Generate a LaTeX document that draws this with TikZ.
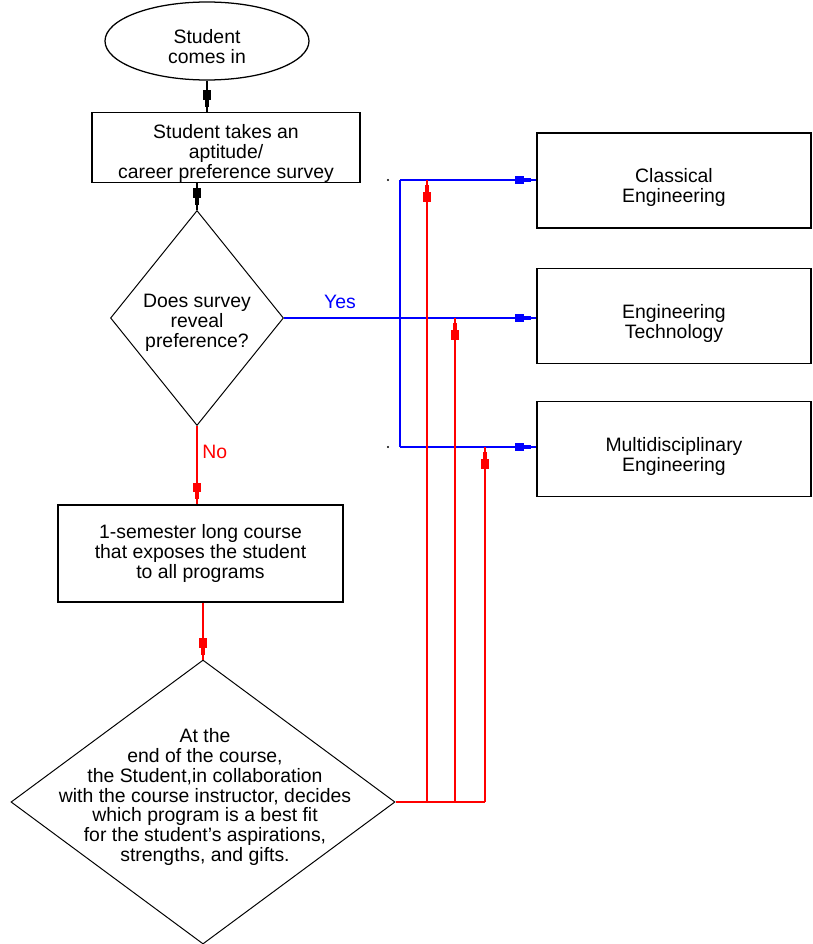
\documentclass[tikz,border=0pt]{standalone}
\usepackage{fontspec}
\setmainfont{Liberation Sans}
\usetikzlibrary{shapes.geometric,arrows.meta,decorations.markings}
\newcommand{\tdrop}[1]{\rule{0pt}{#1}}

\begin{document}
\begin{tikzpicture}[x=0.25mm,y=-0.25mm,
  every node/.style={font=\fontsize{13.8}{14.2}\selectfont, align=center, inner sep=0pt},
  terminal/.style={draw, ellipse, line width=0.9pt, minimum width=51mm, minimum height=19.5mm},
  box/.style={draw, rectangle, line width=1pt},
  progbox/.style={box, minimum width=68.5mm, minimum height=23.75mm},
  decision/.style={draw, diamond, line width=0.7pt},
  tipped/.style={postaction={decorate}, decoration={markings,
    mark=at position -3.5pt with {\arrow{Rectangle[length=5pt,width=2.6pt]}},
    mark=at position -8.5pt with {\arrow{Rectangle[length=7pt,width=5pt]}}}},
  blkln/.style={draw=black, line width=1pt},
  blueln/.style={draw=blue, line width=1pt},
  redln/.style={draw=red, line width=1pt}]
\useasboundingbox (0,0) rectangle (812,944);

% left column
\node[terminal] (start) at (207,41) {\tdrop{18pt}Student\\comes in};
\node[box, minimum width=67mm, minimum height=17.25mm] (survey) at (226,147.5)
  {\tdrop{18.6pt}Student takes an\\aptitude/\\career preference survey};
\node[decision, aspect=0.8, minimum width=43.25mm, minimum height=53.75mm] (pref) at (197,318)
  {\tdrop{17pt}Does survey\\reveal\\preference?};
\node[box, minimum width=71.25mm, minimum height=24.25mm] (course) at (200.5,553.5)
  {1-semester long course\\that exposes the student\\to all programs};
\node[decision, minimum width=96mm, minimum height=71mm] (decide) at (203,802) {};
\node (decidetext) at (205,797) {At the\\end of the course,\\the Student,in collaboration\\with the course instructor, decides\\which program is a best fit\\for the student's aspirations,\\strengths, and gifts.};

% programs
\node[progbox] (classic) at (674,180.5) {\tdrop{20.6pt}Classical\\Engineering};
\node[progbox] (engtech) at (674,316) {\tdrop{20.6pt}Engineering\\Technology};
\node[progbox] (multi) at (674,449) {\tdrop{20.6pt}Multidisciplinary\\Engineering};

% bus points
\coordinate (bustop) at (400,180);
\coordinate (busbot) at (400,447);
\coordinate (r1) at (427,802);
\coordinate (r2) at (455,802);
\coordinate (r3) at (485,802);
\coordinate (dot1) at (388,180);
\coordinate (dot2) at (388,447);
\fill (dot1) circle (1.2);
\fill (dot2) circle (1.2);

% black flow
\draw[blkln, tipped] (start.south) -- (start.south |- survey.north);
\draw[blkln, tipped] (survey.south -| pref.north) -- (pref.north);

% yes
\draw[blueln, tipped] (pref.east) -- (pref.east -| engtech.west);
\node[text=blue, anchor=south] (yes) at (340,309) {Yes};
\draw[blueln] (bustop) -- (busbot);
\draw[blueln, tipped] (bustop) -- (bustop -| classic.west);
\draw[blueln, tipped] (busbot) -- (busbot -| multi.west);

% no
\draw[redln, tipped] (pref.south) -- (pref.south |- course.north);
\node[text=red, anchor=west] (no) at (202,452) {No};
\draw[redln, tipped] (course.south -| decide.north) -- (decide.north);

% back to programs
\draw[redln] (decide.east) -- (r3);
\draw[redln, tipped] (r1) -- (r1 |- bustop);
\draw[redln, tipped] (r2) -- (r2 |- pref.east);
\draw[redln, tipped] (r3) -- (r3 |- busbot);
\end{tikzpicture}
\end{document}
